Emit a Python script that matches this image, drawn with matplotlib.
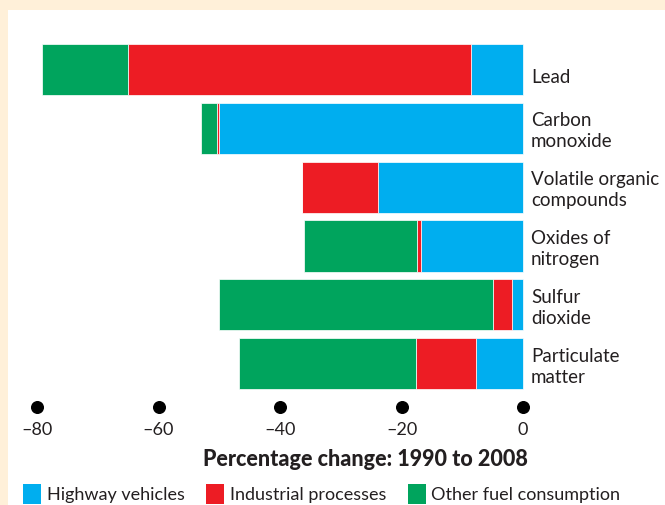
import matplotlib
matplotlib.use("Agg")
import matplotlib.pyplot as plt
from matplotlib.patches import Patch, Rectangle
import matplotlib.transforms as mtransforms
import numpy as np

# data (percentage change 1990 -> 2008)
pollutants = ["Lead", "Carbon\nmonoxide", "Volatile organic\ncompounds",
              "Oxides of\nnitrogen", "Sulfur\ndioxide", "Particulate\nmatter"]
highway    = [-8.6, -50.0, -23.9, -16.8, -1.8, -7.7]
industrial = [-56.5, -0.4, -12.5, -0.6, -3.2, -9.9]
other_fuel = [-14.0, -2.6, 0.0, -18.6, -45.0, -29.1]
sources = ["Highway vehicles", "Industrial processes", "Other fuel consumption"]
ticks = [-80, -60, -40, -20, 0]
tick_labels = ["\u201380", "\u201360", "\u201340", "\u201320", "0"]

BLUE, RED, GREEN = "#00AEEF", "#ED1C24", "#00A45D"
TXT = "#231F20"
BEIGE = "#FFF0D9"

plt.rcParams['font.family'] = ['Lato', 'DejaVu Sans']
W, H = 665, 505
fig = plt.figure(figsize=(W / 100, H / 100), dpi=100, facecolor=BEIGE)
# white panel inside the beige frame
fig.patches.append(Rectangle((8 / W, 0), 1, (H - 9.5) / H, transform=fig.transFigure,
                             facecolor="white", edgecolor="none", zorder=-5))

# axes placed so that x=0 -> px 523, x=-80 -> px 37
scale = 486 / 80
x0, x1 = -84, 1
left_px = 523 + x0 * scale
right_px = 523 + x1 * scale
top_px, bot_px = 40.1, 393.1
ax = fig.add_axes([left_px / W, 1 - bot_px / H, (right_px - left_px) / W, (bot_px - top_px) / H])
ax.set_zorder(2)
ax.patch.set_alpha(0)

y = np.arange(len(pollutants))
hw = np.array(highway)
ind = np.array(industrial)
oth = np.array(other_fuel)
kw = dict(height=0.87, edgecolor="white", linewidth=0.5)
ax.barh(y, hw, color=BLUE, **kw)
ax.barh(y, ind, left=hw, color=RED, **kw)
ax.barh(y, oth, left=hw + ind, color=GREEN, **kw)

ax.set_xlim(x0, x1)
ax.set_ylim(len(pollutants) - 0.5, -0.5)
for s in ax.spines.values():
    s.set_visible(False)
ax.set_yticks([])
ax.set_xticks(ticks)
ax.set_xticklabels(tick_labels, fontsize=13, color=TXT)
ax.tick_params(axis="x", length=0, pad=21)

# round dot tick marks
trans = mtransforms.blended_transform_factory(ax.transData, ax.transAxes)
ax.scatter(ticks, [-14 / (bot_px - top_px)] * len(ticks), s=70, color="black",
           transform=trans, clip_on=False, zorder=5)

# pollutant labels on the right
for i, lab in enumerate(pollutants):
    off = 0.13 if "\n" not in lab else 0.05
    ax.text(1.3, i + off, lab, ha="left", va="center", fontsize=13.5, color=TXT,
            linespacing=1.3, clip_on=False)

fig.text(365 / W, 1 - 459 / H, "Percentage change: 1990 to 2008", ha="center", va="center",
         fontsize=15.5, fontweight="black", color=TXT)

handles = [Patch(facecolor=c, edgecolor="none") for c in (BLUE, RED, GREEN)]
fig.legend(handles, sources, loc="center left", bbox_to_anchor=(16 / W, 1 - 494 / H),
           ncol=3, frameon=False, fontsize=13, handlelength=1.0, handleheight=1.3,
           handletextpad=0.3, columnspacing=1.2, labelcolor=TXT, borderaxespad=0)

fig.savefig("out.png", dpi=100, facecolor=BEIGE)
